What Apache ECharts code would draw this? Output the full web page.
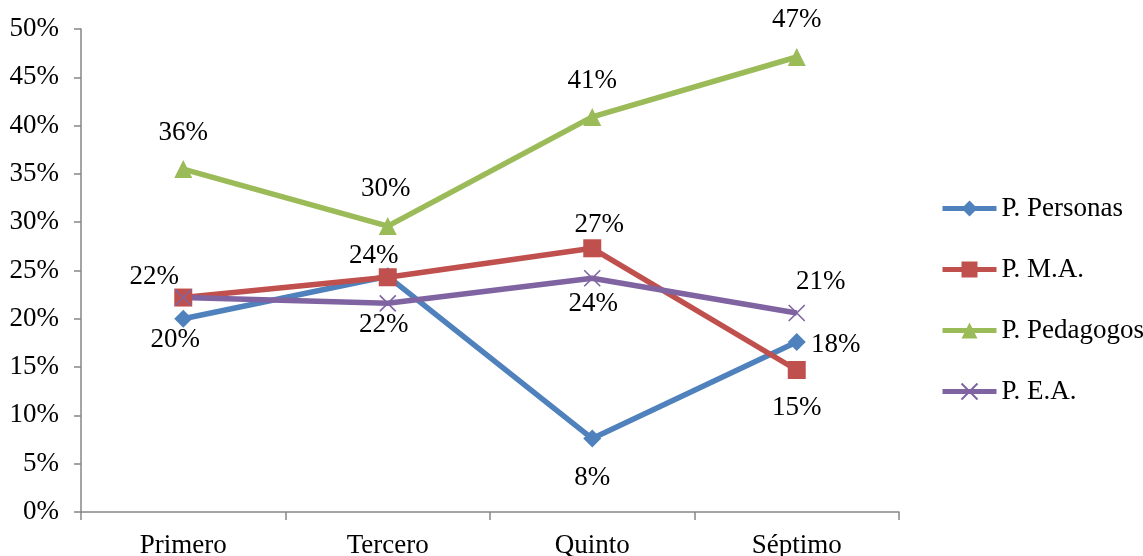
<!DOCTYPE html>
<html>
<head>
<meta charset="utf-8">
<script src="https://cdn.jsdelivr.net/npm/echarts@6/dist/echarts.min.js"></script>
<style>
  html, body { margin: 0; padding: 0; background: #fff; }
  #main { width: 1143px; height: 556px; }
</style>
</head>
<body>
<div id="main"></div>
<script>
var categories = ['Primero', 'Tercero', 'Quinto', 'Séptimo'];
var personas = [20.0, 24.4, 7.6, 17.6];
var ma = [22.2, 24.3, 27.3, 14.7];
var pedagogos = [35.5, 29.6, 40.9, 47.1];
var ea = [22.2, 21.6, 24.2, 20.6];

// label offsets (px) for each point, relative to the marker centre; null = label hidden (overlaps another)
var offPersonas = [[-8, 21], null, [0, 39], [39, 3]];
var offMa = [[-29, -21], [-14, -21], [7, -23], [0, 38]];
var offPedagogos = [[0, -36], [-2, -37], [0, -36], [0, -37]];
var offEa = [null, [-4, 22], [1, 26], [24, -31]];

var font = 'Liberation Serif, Times New Roman, serif';

function withLabels(values, offsets) {
  return values.map(function (v, i) {
    if (!offsets[i]) return { value: v, label: { show: false } };
    return { value: v, label: { offset: offsets[i] } };
  });
}

function makeSeries(name, values, offsets, color, symbol, size) {
  return {
    name: name,
    type: 'line',
    data: withLabels(values, offsets),
    symbol: symbol,
    symbolSize: size,
    lineStyle: { color: color, width: 5.5 },
    itemStyle: { color: color },
    label: {
      show: true,
      position: 'inside',
      fontFamily: font,
      fontSize: 27,
      color: '#000',
      formatter: function (p) { return Math.round(p.value) + '%'; }
    }
  };
}

var eaSeries = makeSeries('P. E.A.', ea, offEa, '#8064A2', 'path://M0,0L10,10M10,0L0,10', 16);
eaSeries.itemStyle = { color: 'none', borderColor: '#8064A2', borderWidth: 1.6 };

var chart = echarts.init(document.getElementById('main'));
chart.setOption({
  animation: false,
  grid: { left: 81, right: 244, top: 29, bottom: 44, outerBoundsMode: 'none' },
  legend: {
    orient: 'vertical',
    left: 940,
    top: 195,
    padding: 0,
    itemWidth: 54,
    itemHeight: 20,
    itemGap: 34,
    lineStyle: { width: 5 },
    textStyle: { fontFamily: font, fontSize: 27, color: '#000' },
    data: ['P. Personas', 'P. M.A.', 'P. Pedagogos', 'P. E.A.']
  },
  xAxis: {
    type: 'category',
    data: categories,
    boundaryGap: true,
    axisLine: { lineStyle: { color: '#868686', width: 1.5 } },
    axisTick: { show: true, length: 8, lineStyle: { color: '#868686', width: 1.5 } },
    axisLabel: { margin: 20, fontFamily: font, fontSize: 27, color: '#000' }
  },
  yAxis: {
    type: 'value',
    min: 0,
    max: 50,
    interval: 5,
    splitLine: { show: false },
    axisLine: { show: true, lineStyle: { color: '#868686', width: 1.5 } },
    axisTick: { show: true, length: 7, lineStyle: { color: '#868686', width: 1.5 } },
    axisLabel: { margin: 22, fontFamily: font, fontSize: 27, color: '#000', formatter: '{value}%' }
  },
  series: [
    makeSeries('P. Personas', personas, offPersonas, '#4F81BD', 'diamond', 18),
    makeSeries('P. M.A.', ma, offMa, '#C0504D', 'rect', 18),
    makeSeries('P. Pedagogos', pedagogos, offPedagogos, '#9BBB59', 'triangle', 18),
    eaSeries
  ]
});
</script>
</body>
</html>
